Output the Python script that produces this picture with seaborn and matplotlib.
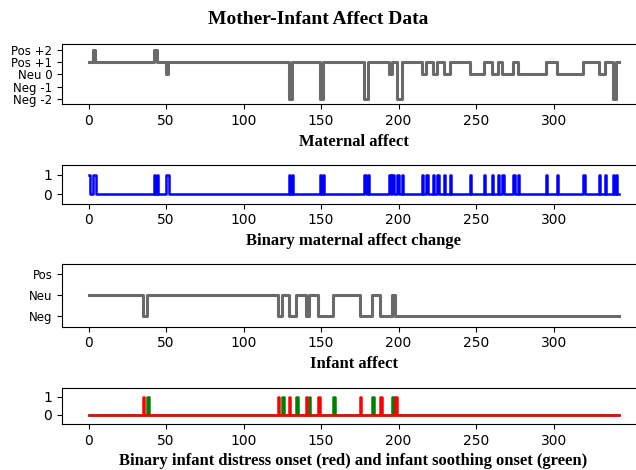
"""
Mother-infant affect time series (maternal affect, change flags, infant affect, onsets)
"""

import numpy as np
import matplotlib
matplotlib.use("Agg")
import matplotlib.pyplot as plt
import seaborn as sns

# number of coded frames
n_frames = 343

# maternal affect: frame where a new level starts, and the level
mat_start = [0, 3, 4, 42, 44, 50, 51, 129, 131, 149, 151, 178, 180, 194, 196,
             199, 202, 215, 218, 222, 225, 229, 233, 246, 255, 260, 264, 267,
             274, 277, 295, 302, 319, 329, 333, 338, 340]
mat_level = [1, 2, 1, 2, 1, 0, 1, -2, 1, -2, 1, -2, 1, 0, 1,
             -2, 1, 0, 1, 0, 1, 0, 1, 0, 1, 0, 1, 0,
             1, 0, 1, 0, 1, 0, 1, -2, 1]
mat_ticks = [-2, -1, 0, 1, 2]
mat_labels = ['Neg -2', 'Neg -1', 'Neu 0', 'Pos +1', 'Pos +2']

# infant affect (0 = Neg, 1 = Neu, 2 = Pos)
inf_start = [0, 35, 38, 122, 125, 129, 134, 140, 142, 148, 158, 175, 183,
             188, 196, 198]
inf_level = [1, 0, 1, 0, 1, 0, 1, 0, 1, 0, 1, 0, 1, 0, 1, 0]
inf_ticks = [0, 1, 2]
inf_labels = ['Neg', 'Neu', 'Pos']


def expand(starts, levels, n):
    """turn (start frame, level) pairs into one value per frame"""
    lengths = np.diff(list(starts) + [n])
    return np.repeat(levels, lengths)


frames = np.arange(n_frames)
maternal = expand(mat_start, mat_level, n_frames)
infant = expand(inf_start, inf_level, n_frames)

# binary change flags
mat_change = np.r_[1, (np.diff(maternal) != 0).astype(int)]
distress = np.r_[0, ((np.diff(infant) != 0) & (infant[1:] == 0)).astype(int)]
soothing = np.r_[0, ((np.diff(infant) != 0) & (infant[1:] == 1)).astype(int)]

fig = plt.figure(figsize=(6.36, 4.70), dpi=100)
left, width = 0.0975, 0.917
ax1 = fig.add_axes([left, 0.7777, width, 0.1277])
ax2 = fig.add_axes([left, 0.567, width, 0.0809])
ax3 = fig.add_axes([left, 0.3053, width, 0.134])
ax4 = fig.add_axes([left, 0.0979, width, 0.0766])

label_font = dict(family='Liberation Serif', fontweight='bold', fontsize=12)
gray = '#6a6a6a'
step = dict(drawstyle='steps-post')

sns.lineplot(x=frames, y=maternal, ax=ax1, color=gray, linewidth=2.2, **step)
ax1.set_ylim(-2.45, 2.45)
ax1.set_yticks(mat_ticks)
ax1.set_yticklabels(mat_labels, fontsize=8.5)
ax1.set_xlabel('Maternal affect', **label_font)

sns.lineplot(x=frames, y=mat_change, ax=ax2, color='blue', linewidth=1.8, **step)
ax2.set_ylim(-0.5, 1.5)
ax2.set_yticks([0, 1])
ax2.set_xlabel('Binary maternal affect change', **label_font)

sns.lineplot(x=frames, y=infant, ax=ax3, color=gray, linewidth=2.2, **step)
ax3.set_ylim(-0.5, 2.5)
ax3.set_yticks(inf_ticks)
ax3.set_yticklabels(inf_labels, fontsize=8.5)
ax3.set_xlabel('Infant affect', **label_font)

sns.lineplot(x=frames, y=soothing, ax=ax4, color='green', linewidth=1.8, **step)
sns.lineplot(x=frames, y=distress, ax=ax4, color='red', linewidth=1.8, **step)
ax4.set_ylim(-0.5, 1.5)
ax4.set_yticks([0, 1])
ax4.set_xlabel('Binary infant distress onset (red) and infant soothing onset (green)',
               **label_font)

for ax in (ax1, ax2, ax3, ax4):
    ax.tick_params(axis='x', labelsize=10)
    ax.set_xticks([0, 50, 100, 150, 200, 250, 300])
    ax.set_ylabel('')

ax2.tick_params(axis='y', labelsize=10)
ax4.tick_params(axis='y', labelsize=10)

fig.suptitle('Mother-Infant Affect Data', x=0.5, y=1 - 20 / 470, va='center',
             family='Liberation Serif', fontweight='bold', fontsize=14)

fig.savefig('out.png', dpi=100)
